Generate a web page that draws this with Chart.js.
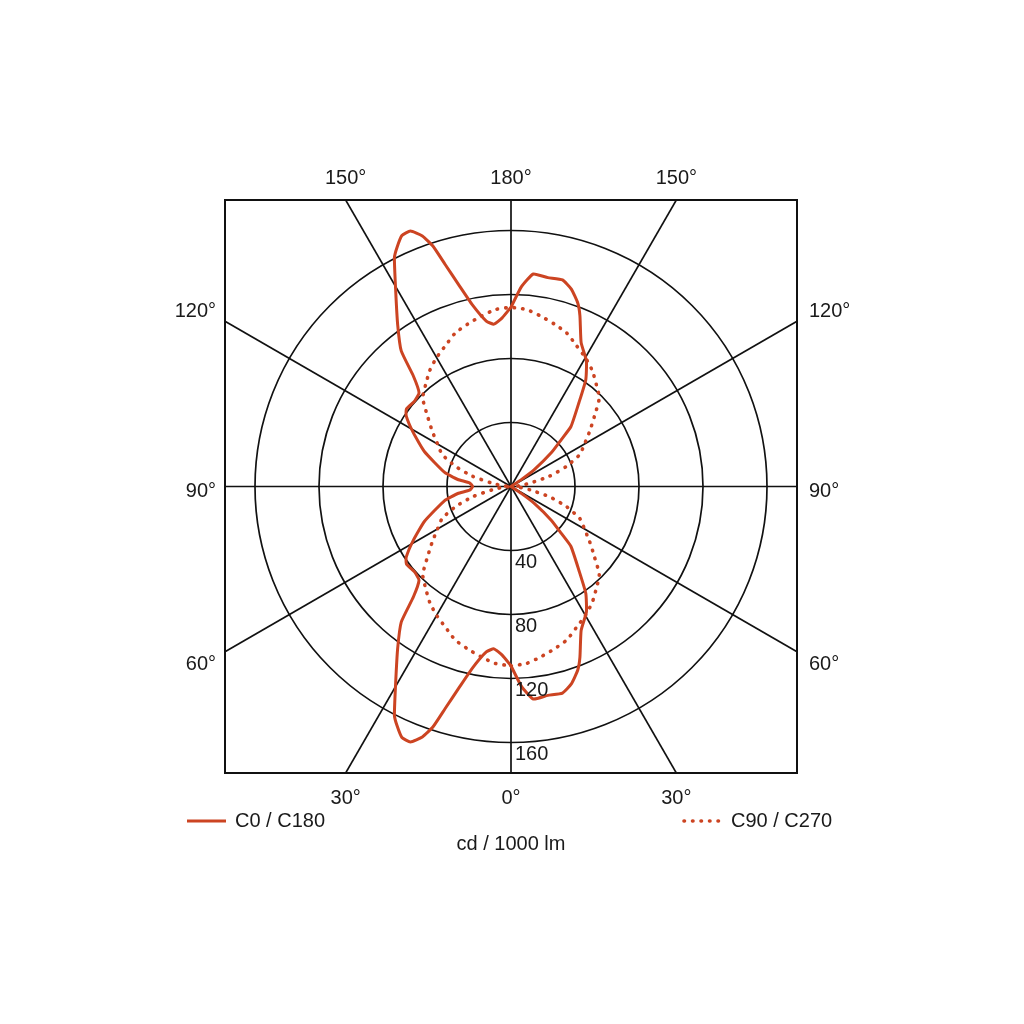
<!DOCTYPE html>
<html>
<head>
<meta charset="utf-8">
<title>Light distribution</title>
<script src="https://cdn.jsdelivr.net/npm/chart.js@4.4.1/dist/chart.umd.min.js"></script>
<style>
  html, body { margin: 0; padding: 0; background: #fff; }
  #wrap { width: 1024px; height: 1024px; }
</style>
</head>
<body>
<div id="wrap"><canvas id="myChart"></canvas></div>
<script>
// gamma in degrees: 0 = straight down, 180 = straight up. values in cd / 1000 lm
const c0Angles = [0, 3, 6, 10, 14, 17, 20, 22, 26, 31, 35, 39, 45, 47, 50, 54, 56, 58, 90,
  122, 124, 126, 130, 133, 135, 141, 145, 149, 154, 158, 160, 163, 166, 170, 174, 177, 180];
const c0Values = [112, 125, 133.5, 132.5, 133, 129, 122, 115, 100, 91.5, 81.5, 67.5, 53, 43, 33, 18, 8, 0, 0,
  0, 8, 18, 33, 43, 53, 67.5, 81.5, 91.5, 100, 115, 122, 129, 133, 132.5, 133.5, 125, 112];

const c180Angles = [0, 3, 6, 8.5, 12, 14.5, 16.5, 18, 19.5, 21.5, 23.5, 25.5, 27, 30.5, 35, 39, 41.5, 44.5,
  48.5, 53.5, 56, 61, 68, 78, 82.5, 85, 90, 95, 97.5, 102, 112, 119, 124, 126.5, 131.5, 135.5, 138.5, 141,
  145, 149.5, 153, 154.5, 156.5, 158.5, 160.5, 162, 163.5, 165.5, 168, 171.5, 174, 177, 180];
const c180Values = [112, 105.5, 102, 104.5, 116, 130, 144.5, 158, 166, 171.5, 171, 165.5, 160.5, 142, 123.5, 109, 92, 82,
  80.5, 81.3, 79, 70, 58.4, 42.4, 33.5, 26, 24, 26, 33.5, 42.4, 58.4, 70, 79, 81.3, 80.5, 82, 92, 109,
  123.5, 142, 160.5, 165.5, 171, 171.5, 166, 158, 144.5, 130, 116, 104.5, 102, 105.5, 112];

const c90Angles = [0, 5, 10, 15, 20, 25, 30, 35, 40, 45, 50, 55, 60, 65, 70, 75, 80, 85, 90,
  95, 100, 105, 110, 115, 120, 125, 130, 135, 140, 145, 150, 155, 160, 165, 170, 175, 180];
const c90Values = [112, 111, 108, 105, 102, 97, 93, 88.5, 83, 78, 68, 60, 53, 47.5, 37, 25, 12, 5, 0,
  5, 12, 25, 37, 47.5, 53, 60, 68, 78, 83, 88.5, 93, 97, 102, 105, 108, 111, 112];
const c270Values = [112, 111, 108, 105, 102, 97, 93, 88.5, 83, 78, 68, 60, 53, 47.5, 37, 25, 12, 5, 0,
  5, 12, 25, 37, 47.5, 53, 60, 68, 78, 83, 88.5, 93, 97, 102, 105, 108, 111, 112];

const ringValues = [40, 80, 120, 160];
const spokeAngles = [0, 30, 60, 90, 120, 150];
const bottomTickAngles = [-30, 0, 30];
const bottomTickLabels = ['30°', '0°', '30°'];
const topTickLabels = ['150°', '180°', '150°'];
const sideTickAngles = [120, 90, 60];
const sideTickLabels = ['120°', '90°', '60°'];
const seriesLabels = ['C0 / C180', 'C90 / C270'];
const unitLabel = 'cd / 1000 lm';

const rad = Math.PI / 180;
const xMax = 178.75;
const yMax = 179;
const lineColor = '#cc4422';
const inkColor = '#1a1a1a';
const fontFamily = '"Liberation Sans", Arial, Helvetica, sans-serif';

Chart.defaults.font.family = fontFamily;
Chart.defaults.font.size = 20;
Chart.defaults.color = inkColor;

function toXY(angles, values, side) {
  return angles.map((g, i) => ({
    x: side * values[i] * Math.sin(g * rad),
    y: -values[i] * Math.cos(g * rad)
  }));
}

const solidData = toXY(c0Angles, c0Values, 1).concat(toXY(c180Angles, c180Values, -1).reverse());
const dottedData = toXY(c90Angles, c90Values, 1).concat(toXY(c90Angles, c270Values, -1).reverse());

// where the spokes meet the frame
const edgeX = bottomTickAngles.map(a => yMax * Math.tan(a * rad));
const edgeY = sideTickAngles.map(g => {
  const v = -xMax * Math.cos(g * rad) / Math.sin(g * rad);
  if (v > 1) return v + 6;
  if (v < -1) return v - 8;
  return -3;
});

function fixedTicks(values) {
  return function (scale) {
    scale.ticks = values.map(v => ({ value: v }));
  };
}

const polarGrid = {
  id: 'polarGrid',
  beforeDatasetsDraw(chart) {
    const { ctx, chartArea, scales: { x, y } } = chart;
    const cx = x.getPixelForValue(0);
    const cy = y.getPixelForValue(0);
    ctx.save();
    ctx.beginPath();
    ctx.rect(chartArea.left, chartArea.top, chartArea.width, chartArea.height);
    ctx.clip();
    ctx.strokeStyle = '#111';
    ctx.lineWidth = 1.7;
    ringValues.forEach(r => {
      ctx.beginPath();
      ctx.arc(cx, cy, x.getPixelForValue(r) - cx, 0, 2 * Math.PI);
      ctx.stroke();
    });
    spokeAngles.forEach(g => {
      const dx = Math.sin(g * rad) * 400;
      const dy = -Math.cos(g * rad) * 400;
      ctx.beginPath();
      ctx.moveTo(x.getPixelForValue(-dx), y.getPixelForValue(-dy));
      ctx.lineTo(x.getPixelForValue(dx), y.getPixelForValue(dy));
      ctx.stroke();
    });
    ctx.restore();
  },
  afterDraw(chart) {
    const { ctx, chartArea, scales: { x, y } } = chart;
    const cx = x.getPixelForValue(0);
    ctx.save();
    ctx.strokeStyle = '#111';
    ctx.lineWidth = 2;
    ctx.strokeRect(chartArea.left, chartArea.top, chartArea.width, chartArea.height);

    ctx.font = '20px ' + fontFamily;
    ctx.fillStyle = inkColor;
    ctx.textBaseline = 'middle';
    ctx.textAlign = 'left';
    ringValues.forEach(r => {
      ctx.fillText(String(r), cx + 4, y.getPixelForValue(-r) + 12);
    });

    // legend
    const ds = chart.data.datasets;
    const ly = chartArea.bottom + 48;
    ctx.lineWidth = 3;
    ctx.strokeStyle = ds[0].borderColor;
    ctx.beginPath();
    ctx.moveTo(chartArea.left - 38, ly);
    ctx.lineTo(chartArea.left + 1, ly);
    ctx.stroke();
    ctx.fillText(ds[0].label, chartArea.left + 10, ly);

    ctx.strokeStyle = ds[1].borderColor;
    ctx.lineWidth = ds[1].borderWidth;
    ctx.lineCap = 'round';
    ctx.setLineDash(ds[1].borderDash);
    ctx.beginPath();
    ctx.moveTo(chartArea.right - 113, ly);
    ctx.lineTo(chartArea.right - 77, ly);
    ctx.stroke();
    ctx.setLineDash([]);
    ctx.fillText(ds[1].label, chartArea.right - 66, ly);
    ctx.restore();
  }
};

new Chart(document.getElementById('myChart'), {
  type: 'scatter',
  data: {
    datasets: [
      {
        label: seriesLabels[0],
        data: solidData,
        showLine: true,
        borderColor: lineColor,
        borderWidth: 3,
        pointRadius: 0,
        tension: 0.15,
        borderDash: []
      },
      {
        label: seriesLabels[1],
        data: dottedData,
        showLine: true,
        borderColor: lineColor,
        borderWidth: 3.6,
        borderCapStyle: 'round',
        borderDash: [0.5, 8],
        pointRadius: 0,
        tension: 0.2
      }
    ]
  },
  options: {
    responsive: true,
    maintainAspectRatio: false,
    animation: false,
    layout: { padding: { left: 0, right: 0, top: 0, bottom: 168 } },
    plugins: { legend: { display: false }, tooltip: { enabled: false } },
    scales: {
      x: {
        type: 'linear', position: 'bottom', min: -xMax, max: xMax,
        grid: { display: false }, border: { display: false },
        afterBuildTicks: fixedTicks(edgeX),
        afterFit: scale => { scale.height = 83; },
        ticks: { padding: 5, maxRotation: 0, autoSkip: false, callback: (v, i) => bottomTickLabels[i] },
        title: { display: true, text: unitLabel, padding: 0, font: { size: 20 } }
      },
      xTop: {
        type: 'linear', position: 'top', min: -xMax, max: xMax,
        grid: { display: false }, border: { display: false },
        afterBuildTicks: fixedTicks(edgeX),
        afterFit: scale => { scale.height = 200; },
        ticks: { padding: 2, maxRotation: 0, autoSkip: false, callback: (v, i) => topTickLabels[i] }
      },
      y: {
        type: 'linear', position: 'left', min: -yMax, max: yMax,
        grid: { display: false }, border: { display: false },
        afterBuildTicks: fixedTicks(edgeY),
        afterFit: scale => { scale.width = 225; },
        ticks: { padding: 1, autoSkip: false, callback: (v, i) => sideTickLabels[i] }
      },
      yRight: {
        type: 'linear', position: 'right', min: -yMax, max: yMax,
        grid: { display: false }, border: { display: false },
        afterBuildTicks: fixedTicks(edgeY),
        afterFit: scale => { scale.width = 227; },
        ticks: { padding: 4, autoSkip: false, callback: (v, i) => sideTickLabels[i] }
      }
    }
  },
  plugins: [polarGrid]
});
</script>
</body>
</html>
